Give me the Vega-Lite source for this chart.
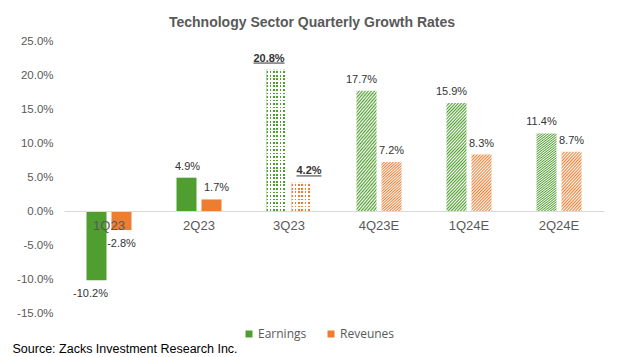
{
  "$schema": "https://vega.github.io/schema/vega-lite/v6.json",
  "autosize": {"type": "none"},
  "width": 540,
  "height": 272,
  "padding": {"left": 64, "top": 41, "right": 16, "bottom": 44},
  "background": "#ffffff",
  "config": {
    "view": {"stroke": null},
    "locale": {"number": {"decimal": ".", "thousands": ",", "grouping": [3], "currency": ["$", ""], "minus": "-", "percent": "%"}}
  },
  "title": {
    "text": "Technology Sector  Quarterly Growth Rates",
    "font": "Liberation Sans",
    "fontSize": 14,
    "fontWeight": "bold",
    "color": "#595959",
    "anchor": "middle",
    "frame": "group",
    "dx": -22,
    "offset": 5
  },
  "data": {
    "values": [
      {"q": "1Q23", "s": "Earnings", "v": -0.102},
      {"q": "1Q23", "s": "Reveunes", "v": -0.028},
      {"q": "2Q23", "s": "Earnings", "v": 0.049},
      {"q": "2Q23", "s": "Reveunes", "v": 0.017},
      {"q": "3Q23", "s": "Earnings", "v": 0.208},
      {"q": "3Q23", "s": "Reveunes", "v": 0.042},
      {"q": "4Q23E", "s": "Earnings", "v": 0.177},
      {"q": "4Q23E", "s": "Reveunes", "v": 0.072},
      {"q": "1Q24E", "s": "Earnings", "v": 0.159},
      {"q": "1Q24E", "s": "Reveunes", "v": 0.083},
      {"q": "2Q24E", "s": "Earnings", "v": 0.114},
      {"q": "2Q24E", "s": "Reveunes", "v": 0.087}
    ]
  },
  "encoding": {
    "x": {
      "field": "q", "type": "nominal",
      "scale": {"domain": ["1Q23", "2Q23", "3Q23", "4Q23E", "1Q24E", "2Q24E"], "paddingInner": 0.5, "paddingOuter": 0.25},
      "axis": {
        "orient": "bottom", "offset": -102, "zindex": 1,
        "domain": true, "domainColor": "#d9d9d9", "domainWidth": 1,
        "ticks": false, "labelPadding": 8, "labelAngle": 0,
        "labelFont": "Liberation Sans", "labelFontSize": 13, "labelColor": "#595959",
        "title": "Source: Zacks Investment Research Inc.",
        "titleFont": "Liberation Sans Narrow, Liberation Sans", "titleFontSize": 12.5, "titleFontWeight": "normal",
        "titleColor": "#000000", "titleX": -52, "titleY": 141, "titleAlign": "left", "titleBaseline": "alphabetic", "titleAnchor": "start"
      }
    },
    "xOffset": {"field": "s", "type": "nominal", "scale": {"domain": ["Earnings", "Reveunes"], "paddingInner": 0.2, "paddingOuter": 0}},
    "y": {
      "field": "v", "type": "quantitative",
      "scale": {"domain": [-0.15, 0.25], "nice": false},
      "axis": {
        "values": [-0.15, -0.1, -0.05, 0, 0.05, 0.1, 0.15, 0.2, 0.25],
        "format": ".1%", "domain": false, "ticks": false, "grid": false,
        "labelFont": "Liberation Sans", "labelFontSize": 11.5, "labelColor": "#595959", "labelPadding": 11,
        "title": null
      }
    }
  },
  "layer": [
    {
      "transform": [{"filter": {"field": "q", "oneOf": ["1Q23", "2Q23"]}}],
      "mark": {"type": "bar"},
      "encoding": {
        "color": {
          "field": "s", "type": "nominal",
          "scale": {"domain": ["Earnings", "Reveunes"], "range": ["#509e2f", "#ed7d31"]},
          "legend": {
            "orient": "none", "legendX": 179, "legendY": 287, "direction": "horizontal", "title": null,
            "symbolType": "square", "symbolSize": 49, "symbolStrokeWidth": 0,
            "labelFont": "Open Sans", "labelFontSize": 12, "labelColor": "#595959",
            "columnPadding": 18, "labelOffset": 3, "padding": 0
          }
        }
      }
    },
    {
      "transform": [{"filter": "datum.s === 'Earnings' && indexof(['4Q23E','1Q24E','2Q24E'], datum.q) >= 0"}],
      "mark": {"type": "bar", "fill": {"gradient": "linear", "x1": 0, "y1": 0, "x2": 0.2258, "y2": 1.1517, "stops": [
        {"offset": 0, "color": "#509e2f"}, {"offset": 0.0125, "color": "#fff"}, {"offset": 0.025, "color": "#509e2f"}, {"offset": 0.0375, "color": "#fff"},
        {"offset": 0.05, "color": "#509e2f"}, {"offset": 0.0625, "color": "#fff"}, {"offset": 0.075, "color": "#509e2f"}, {"offset": 0.0875, "color": "#fff"},
        {"offset": 0.1, "color": "#509e2f"}, {"offset": 0.1125, "color": "#fff"}, {"offset": 0.125, "color": "#509e2f"}, {"offset": 0.1375, "color": "#fff"},
        {"offset": 0.15, "color": "#509e2f"}, {"offset": 0.1625, "color": "#fff"}, {"offset": 0.175, "color": "#509e2f"}, {"offset": 0.1875, "color": "#fff"},
        {"offset": 0.2, "color": "#509e2f"}, {"offset": 0.2125, "color": "#fff"}, {"offset": 0.225, "color": "#509e2f"}, {"offset": 0.2375, "color": "#fff"},
        {"offset": 0.25, "color": "#509e2f"}, {"offset": 0.2625, "color": "#fff"}, {"offset": 0.275, "color": "#509e2f"}, {"offset": 0.2875, "color": "#fff"},
        {"offset": 0.3, "color": "#509e2f"}, {"offset": 0.3125, "color": "#fff"}, {"offset": 0.325, "color": "#509e2f"}, {"offset": 0.3375, "color": "#fff"},
        {"offset": 0.35, "color": "#509e2f"}, {"offset": 0.3625, "color": "#fff"}, {"offset": 0.375, "color": "#509e2f"}, {"offset": 0.3875, "color": "#fff"},
        {"offset": 0.4, "color": "#509e2f"}, {"offset": 0.4125, "color": "#fff"}, {"offset": 0.425, "color": "#509e2f"}, {"offset": 0.4375, "color": "#fff"},
        {"offset": 0.45, "color": "#509e2f"}, {"offset": 0.4625, "color": "#fff"}, {"offset": 0.475, "color": "#509e2f"}, {"offset": 0.4875, "color": "#fff"},
        {"offset": 0.5, "color": "#509e2f"}, {"offset": 0.5125, "color": "#fff"}, {"offset": 0.525, "color": "#509e2f"}, {"offset": 0.5375, "color": "#fff"},
        {"offset": 0.55, "color": "#509e2f"}, {"offset": 0.5625, "color": "#fff"}, {"offset": 0.575, "color": "#509e2f"}, {"offset": 0.5875, "color": "#fff"},
        {"offset": 0.6, "color": "#509e2f"}, {"offset": 0.6125, "color": "#fff"}, {"offset": 0.625, "color": "#509e2f"}, {"offset": 0.6375, "color": "#fff"},
        {"offset": 0.65, "color": "#509e2f"}, {"offset": 0.6625, "color": "#fff"}, {"offset": 0.675, "color": "#509e2f"}, {"offset": 0.6875, "color": "#fff"},
        {"offset": 0.7, "color": "#509e2f"}, {"offset": 0.7125, "color": "#fff"}, {"offset": 0.725, "color": "#509e2f"}, {"offset": 0.7375, "color": "#fff"},
        {"offset": 0.75, "color": "#509e2f"}, {"offset": 0.7625, "color": "#fff"}, {"offset": 0.775, "color": "#509e2f"}, {"offset": 0.7875, "color": "#fff"},
        {"offset": 0.8, "color": "#509e2f"}, {"offset": 0.8125, "color": "#fff"}, {"offset": 0.825, "color": "#509e2f"}, {"offset": 0.8375, "color": "#fff"},
        {"offset": 0.85, "color": "#509e2f"}, {"offset": 0.8625, "color": "#fff"}, {"offset": 0.875, "color": "#509e2f"}, {"offset": 0.8875, "color": "#fff"},
        {"offset": 0.9, "color": "#509e2f"}, {"offset": 0.9125, "color": "#fff"}, {"offset": 0.925, "color": "#509e2f"}, {"offset": 0.9375, "color": "#fff"},
        {"offset": 0.95, "color": "#509e2f"}, {"offset": 0.9625, "color": "#fff"}, {"offset": 0.975, "color": "#509e2f"}, {"offset": 0.9875, "color": "#fff"},
        {"offset": 1, "color": "#509e2f"}
      ]}}
    },
    {
      "transform": [{"filter": "datum.s === 'Reveunes' && indexof(['4Q23E','1Q24E','2Q24E'], datum.q) >= 0"}],
      "mark": {"type": "bar", "fill": {"gradient": "linear", "x1": 0, "y1": 0, "x2": 0.438, "y2": 1.2044, "stops": [
        {"offset": 0, "color": "#ed7d31"}, {"offset": 0.02, "color": "#fff"}, {"offset": 0.04, "color": "#ed7d31"}, {"offset": 0.06, "color": "#fff"},
        {"offset": 0.08, "color": "#ed7d31"}, {"offset": 0.1, "color": "#fff"}, {"offset": 0.12, "color": "#ed7d31"}, {"offset": 0.14, "color": "#fff"},
        {"offset": 0.16, "color": "#ed7d31"}, {"offset": 0.18, "color": "#fff"}, {"offset": 0.2, "color": "#ed7d31"}, {"offset": 0.22, "color": "#fff"},
        {"offset": 0.24, "color": "#ed7d31"}, {"offset": 0.26, "color": "#fff"}, {"offset": 0.28, "color": "#ed7d31"}, {"offset": 0.3, "color": "#fff"},
        {"offset": 0.32, "color": "#ed7d31"}, {"offset": 0.34, "color": "#fff"}, {"offset": 0.36, "color": "#ed7d31"}, {"offset": 0.38, "color": "#fff"},
        {"offset": 0.4, "color": "#ed7d31"}, {"offset": 0.42, "color": "#fff"}, {"offset": 0.44, "color": "#ed7d31"}, {"offset": 0.46, "color": "#fff"},
        {"offset": 0.48, "color": "#ed7d31"}, {"offset": 0.5, "color": "#fff"}, {"offset": 0.52, "color": "#ed7d31"}, {"offset": 0.54, "color": "#fff"},
        {"offset": 0.56, "color": "#ed7d31"}, {"offset": 0.58, "color": "#fff"}, {"offset": 0.6, "color": "#ed7d31"}, {"offset": 0.62, "color": "#fff"},
        {"offset": 0.64, "color": "#ed7d31"}, {"offset": 0.66, "color": "#fff"}, {"offset": 0.68, "color": "#ed7d31"}, {"offset": 0.7, "color": "#fff"},
        {"offset": 0.72, "color": "#ed7d31"}, {"offset": 0.74, "color": "#fff"}, {"offset": 0.76, "color": "#ed7d31"}, {"offset": 0.78, "color": "#fff"},
        {"offset": 0.8, "color": "#ed7d31"}, {"offset": 0.82, "color": "#fff"}, {"offset": 0.84, "color": "#ed7d31"}, {"offset": 0.86, "color": "#fff"},
        {"offset": 0.88, "color": "#ed7d31"}, {"offset": 0.9, "color": "#fff"}, {"offset": 0.92, "color": "#ed7d31"}, {"offset": 0.94, "color": "#fff"},
        {"offset": 0.96, "color": "#ed7d31"}, {"offset": 0.98, "color": "#fff"}, {"offset": 1, "color": "#ed7d31"}
      ]}}
    },
    {
      "transform": [{"filter": "datum.s === 'Earnings' && datum.q === '3Q23'"}],
      "mark": {"type": "bar", "fill": {"gradient": "linear", "x1": 0, "y1": 0, "x2": 1, "y2": 0, "stops": [
        {"offset": 0, "color": "#509e2f"}, {"offset": 0.0833, "color": "#509e2f"}, {"offset": 0.0833, "color": "#fff"}, {"offset": 0.1667, "color": "#fff"},
        {"offset": 0.1667, "color": "#509e2f"}, {"offset": 0.25, "color": "#509e2f"}, {"offset": 0.25, "color": "#fff"}, {"offset": 0.3333, "color": "#fff"},
        {"offset": 0.3333, "color": "#509e2f"}, {"offset": 0.4167, "color": "#509e2f"}, {"offset": 0.4167, "color": "#fff"}, {"offset": 0.5, "color": "#fff"},
        {"offset": 0.5, "color": "#509e2f"}, {"offset": 0.5833, "color": "#509e2f"}, {"offset": 0.5833, "color": "#fff"}, {"offset": 0.6667, "color": "#fff"},
        {"offset": 0.6667, "color": "#509e2f"}, {"offset": 0.75, "color": "#509e2f"}, {"offset": 0.75, "color": "#fff"}, {"offset": 0.8333, "color": "#fff"},
        {"offset": 0.8333, "color": "#509e2f"}, {"offset": 0.9167, "color": "#509e2f"}, {"offset": 0.9167, "color": "#fff"}, {"offset": 1, "color": "#fff"}
      ]}}
    },
    {
      "transform": [{"filter": "datum.s === 'Earnings' && datum.q === '3Q23'"}],
      "mark": {"type": "bar", "fill": {"gradient": "linear", "x1": 0, "y1": 0, "x2": 0, "y2": 1, "stops": [
        {"offset": 0, "color": "#fff"}, {"offset": 0.0125, "color": "#fff"}, {"offset": 0.0125, "color": "rgba(255,255,255,0)"}, {"offset": 0.025, "color": "rgba(255,255,255,0)"},
        {"offset": 0.025, "color": "#fff"}, {"offset": 0.0375, "color": "#fff"}, {"offset": 0.0375, "color": "rgba(255,255,255,0)"}, {"offset": 0.05, "color": "rgba(255,255,255,0)"},
        {"offset": 0.05, "color": "#fff"}, {"offset": 0.0625, "color": "#fff"}, {"offset": 0.0625, "color": "rgba(255,255,255,0)"}, {"offset": 0.075, "color": "rgba(255,255,255,0)"},
        {"offset": 0.075, "color": "#fff"}, {"offset": 0.0875, "color": "#fff"}, {"offset": 0.0875, "color": "rgba(255,255,255,0)"}, {"offset": 0.1, "color": "rgba(255,255,255,0)"},
        {"offset": 0.1, "color": "#fff"}, {"offset": 0.1125, "color": "#fff"}, {"offset": 0.1125, "color": "rgba(255,255,255,0)"}, {"offset": 0.125, "color": "rgba(255,255,255,0)"},
        {"offset": 0.125, "color": "#fff"}, {"offset": 0.1375, "color": "#fff"}, {"offset": 0.1375, "color": "rgba(255,255,255,0)"}, {"offset": 0.15, "color": "rgba(255,255,255,0)"},
        {"offset": 0.15, "color": "#fff"}, {"offset": 0.1625, "color": "#fff"}, {"offset": 0.1625, "color": "rgba(255,255,255,0)"}, {"offset": 0.175, "color": "rgba(255,255,255,0)"},
        {"offset": 0.175, "color": "#fff"}, {"offset": 0.1875, "color": "#fff"}, {"offset": 0.1875, "color": "rgba(255,255,255,0)"}, {"offset": 0.2, "color": "rgba(255,255,255,0)"},
        {"offset": 0.2, "color": "#fff"}, {"offset": 0.2125, "color": "#fff"}, {"offset": 0.2125, "color": "rgba(255,255,255,0)"}, {"offset": 0.225, "color": "rgba(255,255,255,0)"},
        {"offset": 0.225, "color": "#fff"}, {"offset": 0.2375, "color": "#fff"}, {"offset": 0.2375, "color": "rgba(255,255,255,0)"}, {"offset": 0.25, "color": "rgba(255,255,255,0)"},
        {"offset": 0.25, "color": "#fff"}, {"offset": 0.2625, "color": "#fff"}, {"offset": 0.2625, "color": "rgba(255,255,255,0)"}, {"offset": 0.275, "color": "rgba(255,255,255,0)"},
        {"offset": 0.275, "color": "#fff"}, {"offset": 0.2875, "color": "#fff"}, {"offset": 0.2875, "color": "rgba(255,255,255,0)"}, {"offset": 0.3, "color": "rgba(255,255,255,0)"},
        {"offset": 0.3, "color": "#fff"}, {"offset": 0.3125, "color": "#fff"}, {"offset": 0.3125, "color": "rgba(255,255,255,0)"}, {"offset": 0.325, "color": "rgba(255,255,255,0)"},
        {"offset": 0.325, "color": "#fff"}, {"offset": 0.3375, "color": "#fff"}, {"offset": 0.3375, "color": "rgba(255,255,255,0)"}, {"offset": 0.35, "color": "rgba(255,255,255,0)"},
        {"offset": 0.35, "color": "#fff"}, {"offset": 0.3625, "color": "#fff"}, {"offset": 0.3625, "color": "rgba(255,255,255,0)"}, {"offset": 0.375, "color": "rgba(255,255,255,0)"},
        {"offset": 0.375, "color": "#fff"}, {"offset": 0.3875, "color": "#fff"}, {"offset": 0.3875, "color": "rgba(255,255,255,0)"}, {"offset": 0.4, "color": "rgba(255,255,255,0)"},
        {"offset": 0.4, "color": "#fff"}, {"offset": 0.4125, "color": "#fff"}, {"offset": 0.4125, "color": "rgba(255,255,255,0)"}, {"offset": 0.425, "color": "rgba(255,255,255,0)"},
        {"offset": 0.425, "color": "#fff"}, {"offset": 0.4375, "color": "#fff"}, {"offset": 0.4375, "color": "rgba(255,255,255,0)"}, {"offset": 0.45, "color": "rgba(255,255,255,0)"},
        {"offset": 0.45, "color": "#fff"}, {"offset": 0.4625, "color": "#fff"}, {"offset": 0.4625, "color": "rgba(255,255,255,0)"}, {"offset": 0.475, "color": "rgba(255,255,255,0)"},
        {"offset": 0.475, "color": "#fff"}, {"offset": 0.4875, "color": "#fff"}, {"offset": 0.4875, "color": "rgba(255,255,255,0)"}, {"offset": 0.5, "color": "rgba(255,255,255,0)"},
        {"offset": 0.5, "color": "#fff"}, {"offset": 0.5125, "color": "#fff"}, {"offset": 0.5125, "color": "rgba(255,255,255,0)"}, {"offset": 0.525, "color": "rgba(255,255,255,0)"},
        {"offset": 0.525, "color": "#fff"}, {"offset": 0.5375, "color": "#fff"}, {"offset": 0.5375, "color": "rgba(255,255,255,0)"}, {"offset": 0.55, "color": "rgba(255,255,255,0)"},
        {"offset": 0.55, "color": "#fff"}, {"offset": 0.5625, "color": "#fff"}, {"offset": 0.5625, "color": "rgba(255,255,255,0)"}, {"offset": 0.575, "color": "rgba(255,255,255,0)"},
        {"offset": 0.575, "color": "#fff"}, {"offset": 0.5875, "color": "#fff"}, {"offset": 0.5875, "color": "rgba(255,255,255,0)"}, {"offset": 0.6, "color": "rgba(255,255,255,0)"},
        {"offset": 0.6, "color": "#fff"}, {"offset": 0.6125, "color": "#fff"}, {"offset": 0.6125, "color": "rgba(255,255,255,0)"}, {"offset": 0.625, "color": "rgba(255,255,255,0)"},
        {"offset": 0.625, "color": "#fff"}, {"offset": 0.6375, "color": "#fff"}, {"offset": 0.6375, "color": "rgba(255,255,255,0)"}, {"offset": 0.65, "color": "rgba(255,255,255,0)"},
        {"offset": 0.65, "color": "#fff"}, {"offset": 0.6625, "color": "#fff"}, {"offset": 0.6625, "color": "rgba(255,255,255,0)"}, {"offset": 0.675, "color": "rgba(255,255,255,0)"},
        {"offset": 0.675, "color": "#fff"}, {"offset": 0.6875, "color": "#fff"}, {"offset": 0.6875, "color": "rgba(255,255,255,0)"}, {"offset": 0.7, "color": "rgba(255,255,255,0)"},
        {"offset": 0.7, "color": "#fff"}, {"offset": 0.7125, "color": "#fff"}, {"offset": 0.7125, "color": "rgba(255,255,255,0)"}, {"offset": 0.725, "color": "rgba(255,255,255,0)"},
        {"offset": 0.725, "color": "#fff"}, {"offset": 0.7375, "color": "#fff"}, {"offset": 0.7375, "color": "rgba(255,255,255,0)"}, {"offset": 0.75, "color": "rgba(255,255,255,0)"},
        {"offset": 0.75, "color": "#fff"}, {"offset": 0.7625, "color": "#fff"}, {"offset": 0.7625, "color": "rgba(255,255,255,0)"}, {"offset": 0.775, "color": "rgba(255,255,255,0)"},
        {"offset": 0.775, "color": "#fff"}, {"offset": 0.7875, "color": "#fff"}, {"offset": 0.7875, "color": "rgba(255,255,255,0)"}, {"offset": 0.8, "color": "rgba(255,255,255,0)"},
        {"offset": 0.8, "color": "#fff"}, {"offset": 0.8125, "color": "#fff"}, {"offset": 0.8125, "color": "rgba(255,255,255,0)"}, {"offset": 0.825, "color": "rgba(255,255,255,0)"},
        {"offset": 0.825, "color": "#fff"}, {"offset": 0.8375, "color": "#fff"}, {"offset": 0.8375, "color": "rgba(255,255,255,0)"}, {"offset": 0.85, "color": "rgba(255,255,255,0)"},
        {"offset": 0.85, "color": "#fff"}, {"offset": 0.8625, "color": "#fff"}, {"offset": 0.8625, "color": "rgba(255,255,255,0)"}, {"offset": 0.875, "color": "rgba(255,255,255,0)"},
        {"offset": 0.875, "color": "#fff"}, {"offset": 0.8875, "color": "#fff"}, {"offset": 0.8875, "color": "rgba(255,255,255,0)"}, {"offset": 0.9, "color": "rgba(255,255,255,0)"},
        {"offset": 0.9, "color": "#fff"}, {"offset": 0.9125, "color": "#fff"}, {"offset": 0.9125, "color": "rgba(255,255,255,0)"}, {"offset": 0.925, "color": "rgba(255,255,255,0)"},
        {"offset": 0.925, "color": "#fff"}, {"offset": 0.9375, "color": "#fff"}, {"offset": 0.9375, "color": "rgba(255,255,255,0)"}, {"offset": 0.95, "color": "rgba(255,255,255,0)"},
        {"offset": 0.95, "color": "#fff"}, {"offset": 0.9625, "color": "#fff"}, {"offset": 0.9625, "color": "rgba(255,255,255,0)"}, {"offset": 0.975, "color": "rgba(255,255,255,0)"},
        {"offset": 0.975, "color": "#fff"}, {"offset": 0.9875, "color": "#fff"}, {"offset": 0.9875, "color": "rgba(255,255,255,0)"}, {"offset": 1, "color": "rgba(255,255,255,0)"}
      ]}}
    },
    {
      "transform": [{"filter": "datum.s === 'Reveunes' && datum.q === '3Q23'"}],
      "mark": {"type": "bar", "fill": {"gradient": "linear", "x1": 0, "y1": 0, "x2": 1, "y2": 0, "stops": [
        {"offset": 0, "color": "#ed7d31"}, {"offset": 0.0833, "color": "#ed7d31"}, {"offset": 0.0833, "color": "#fff"}, {"offset": 0.1667, "color": "#fff"},
        {"offset": 0.1667, "color": "#ed7d31"}, {"offset": 0.25, "color": "#ed7d31"}, {"offset": 0.25, "color": "#fff"}, {"offset": 0.3333, "color": "#fff"},
        {"offset": 0.3333, "color": "#ed7d31"}, {"offset": 0.4167, "color": "#ed7d31"}, {"offset": 0.4167, "color": "#fff"}, {"offset": 0.5, "color": "#fff"},
        {"offset": 0.5, "color": "#ed7d31"}, {"offset": 0.5833, "color": "#ed7d31"}, {"offset": 0.5833, "color": "#fff"}, {"offset": 0.6667, "color": "#fff"},
        {"offset": 0.6667, "color": "#ed7d31"}, {"offset": 0.75, "color": "#ed7d31"}, {"offset": 0.75, "color": "#fff"}, {"offset": 0.8333, "color": "#fff"},
        {"offset": 0.8333, "color": "#ed7d31"}, {"offset": 0.9167, "color": "#ed7d31"}, {"offset": 0.9167, "color": "#fff"}, {"offset": 1, "color": "#fff"}
      ]}}
    },
    {
      "transform": [{"filter": "datum.s === 'Reveunes' && datum.q === '3Q23'"}],
      "mark": {"type": "bar", "fill": {"gradient": "linear", "x1": 0, "y1": 0, "x2": 0, "y2": 1, "stops": [
        {"offset": 0, "color": "#fff"}, {"offset": 0.0625, "color": "#fff"}, {"offset": 0.0625, "color": "rgba(255,255,255,0)"}, {"offset": 0.125, "color": "rgba(255,255,255,0)"},
        {"offset": 0.125, "color": "#fff"}, {"offset": 0.1875, "color": "#fff"}, {"offset": 0.1875, "color": "rgba(255,255,255,0)"}, {"offset": 0.25, "color": "rgba(255,255,255,0)"},
        {"offset": 0.25, "color": "#fff"}, {"offset": 0.3125, "color": "#fff"}, {"offset": 0.3125, "color": "rgba(255,255,255,0)"}, {"offset": 0.375, "color": "rgba(255,255,255,0)"},
        {"offset": 0.375, "color": "#fff"}, {"offset": 0.4375, "color": "#fff"}, {"offset": 0.4375, "color": "rgba(255,255,255,0)"}, {"offset": 0.5, "color": "rgba(255,255,255,0)"},
        {"offset": 0.5, "color": "#fff"}, {"offset": 0.5625, "color": "#fff"}, {"offset": 0.5625, "color": "rgba(255,255,255,0)"}, {"offset": 0.625, "color": "rgba(255,255,255,0)"},
        {"offset": 0.625, "color": "#fff"}, {"offset": 0.6875, "color": "#fff"}, {"offset": 0.6875, "color": "rgba(255,255,255,0)"}, {"offset": 0.75, "color": "rgba(255,255,255,0)"},
        {"offset": 0.75, "color": "#fff"}, {"offset": 0.8125, "color": "#fff"}, {"offset": 0.8125, "color": "rgba(255,255,255,0)"}, {"offset": 0.875, "color": "rgba(255,255,255,0)"},
        {"offset": 0.875, "color": "#fff"}, {"offset": 0.9375, "color": "#fff"}, {"offset": 0.9375, "color": "rgba(255,255,255,0)"}, {"offset": 1, "color": "rgba(255,255,255,0)"}
      ]}}
    },
    {
      "transform": [{"filter": "datum.s === 'Earnings' && datum.v > 0 && datum.q !== '3Q23' && datum.q !== '2Q23'"}],
      "mark": {"type": "text", "font": "Liberation Sans", "fontSize": 11, "color": "#333333", "baseline": "alphabetic", "align": "center", "dx": -5, "dy": -8},
      "encoding": {"text": {"field": "v", "type": "quantitative", "format": ".1%"}}
    },
    {
      "transform": [{"filter": "datum.s === 'Earnings' && datum.q === '2Q23'"}],
      "mark": {"type": "text", "font": "Liberation Sans", "fontSize": 11, "color": "#333333", "baseline": "alphabetic", "align": "center", "dx": 1, "dy": -8},
      "encoding": {"text": {"field": "v", "type": "quantitative", "format": ".1%"}}
    },
    {
      "transform": [{"filter": "datum.s === 'Earnings' && datum.v < 0"}],
      "mark": {"type": "text", "font": "Liberation Sans", "fontSize": 11, "color": "#333333", "baseline": "alphabetic", "align": "center", "dx": -6, "dy": 17},
      "encoding": {"text": {"field": "v", "type": "quantitative", "format": ".1%"}}
    },
    {
      "transform": [{"filter": "datum.s === 'Reveunes' && datum.v > 0 && datum.q !== '3Q23' && datum.q !== '2Q23'"}],
      "mark": {"type": "text", "font": "Liberation Sans", "fontSize": 11, "color": "#333333", "baseline": "alphabetic", "align": "center", "dx": 0, "dy": -8},
      "encoding": {"text": {"field": "v", "type": "quantitative", "format": ".1%"}}
    },
    {
      "transform": [{"filter": "datum.s === 'Reveunes' && datum.q === '2Q23'"}],
      "mark": {"type": "text", "font": "Liberation Sans", "fontSize": 11, "color": "#333333", "baseline": "alphabetic", "align": "center", "dx": 5, "dy": -8},
      "encoding": {"text": {"field": "v", "type": "quantitative", "format": ".1%"}}
    },
    {
      "transform": [{"filter": "datum.s === 'Reveunes' && datum.v < 0"}],
      "mark": {"type": "text", "font": "Liberation Sans", "fontSize": 11, "color": "#333333", "baseline": "alphabetic", "align": "center", "dx": 0, "dy": 17},
      "encoding": {"text": {"field": "v", "type": "quantitative", "format": ".1%"}}
    },
    {
      "transform": [{"filter": "datum.s === 'Earnings' && datum.q === '3Q23'"}],
      "mark": {"type": "text", "font": "Liberation Sans", "fontSize": 11, "fontWeight": "bold", "color": "#333333", "baseline": "alphabetic", "align": "center", "dx": -7.5, "dy": -8},
      "encoding": {"text": {"field": "v", "type": "quantitative", "format": ".1%"}}
    },
    {
      "transform": [{"filter": "datum.s === 'Reveunes' && datum.q === '3Q23'"}],
      "mark": {"type": "text", "font": "Liberation Sans", "fontSize": 11, "fontWeight": "bold", "color": "#333333", "baseline": "alphabetic", "align": "center", "dx": 7.5, "dy": -8},
      "encoding": {"text": {"field": "v", "type": "quantitative", "format": ".1%"}}
    },
    {
      "transform": [{"filter": "datum.s === 'Earnings' && datum.q === '3Q23'"}],
      "mark": {"type": "tick", "orient": "horizontal", "size": 31, "thickness": 1, "color": "#333333", "opacity": 1, "yOffset": -6.5},
      "encoding": {"xOffset": {"value": 2.5}}
    },
    {
      "transform": [{"filter": "datum.s === 'Reveunes' && datum.q === '3Q23'"}],
      "mark": {"type": "tick", "orient": "horizontal", "size": 25, "thickness": 1, "color": "#333333", "opacity": 1, "yOffset": -6.5},
      "encoding": {"xOffset": {"value": 42.5}}
    }
  ]
}
